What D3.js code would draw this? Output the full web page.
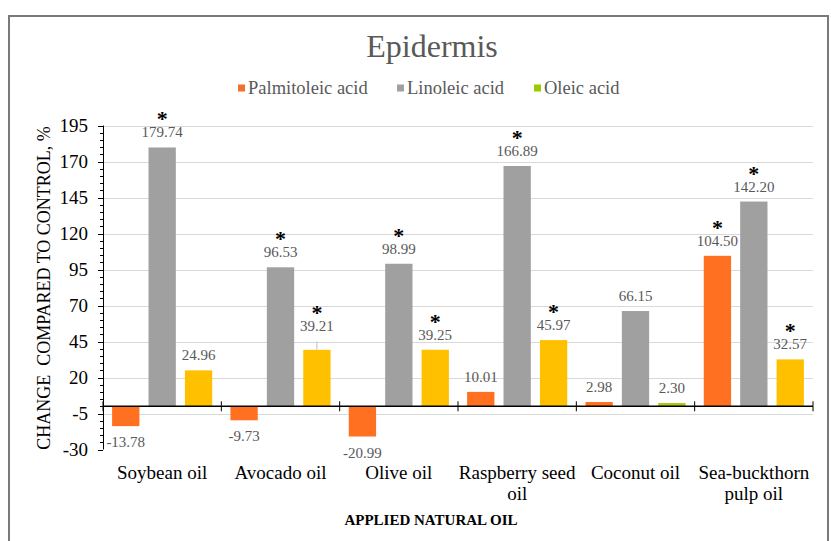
<!DOCTYPE html>
<html>
<head>
<meta charset="utf-8">
<script src="https://cdn.jsdelivr.net/npm/d3@7"></script>
<style>
  html, body { margin: 0; padding: 0; background: #fff; }
  svg { display: block; }
  svg text { font-family: "Liberation Serif", "Times New Roman", "DejaVu Serif", serif; }
</style>
</head>
<body>
<script>
// ---- data ----
const categories = [["Soybean oil"], ["Avocado oil"], ["Olive oil"], ["Raspberry seed", "oil"], ["Coconut oil"], ["Sea-buckthorn", "pulp oil"]];
const seriesNames = ["Palmitoleic acid", "Linoleic acid", "Oleic acid"];
const palmitoleic = [-13.78, -9.73, -20.99, 10.01, 2.98, 104.50];
const linoleic = [179.74, 96.53, 98.99, 166.89, 66.15, 142.20];
const oleic = [24.96, 39.21, 39.25, 45.97, 2.30, 32.57];
const palmitoleicSig = [false, false, false, false, false, true];
const linoleicSig = [true, true, true, true, false, true];
const oleicSig = [false, true, true, true, false, true];
const oleicErr = [0, 5.8, 0, 0, 0, 0];
const yTicks = [195, 170, 145, 120, 95, 70, 45, 20, -5, -30];

// ---- styles ----
const seriesColors = ["#FF7020", "#A0A0A0", "#FFC000"];
const legendColors = ["#F07030", "#A0A0A0", "#99CC00"];
const pointColorOverride = { "2-4": "#A8C81E" };

const W = 831, H = 541;
const svg = d3.select("body").append("svg").attr("width", W).attr("height", H);
svg.append("rect").attr("width", W).attr("height", H).attr("fill", "#fff");

// frame
svg.append("rect").attr("x", 9).attr("y", 16).attr("width", 819).attr("height", 560)
  .attr("fill", "none").attr("stroke", "#7a7a7a").attr("stroke-width", 2);

const plotL = 103, plotR = 813;
const y = d3.scaleLinear().domain([-30, 195]).range([449.5, 125.5]);
const x0 = d3.scaleBand().domain(d3.range(categories.length)).range([plotL, plotR]).padding(0);
const x1 = d3.scaleBand().domain(d3.range(3)).range([0, x0.bandwidth()]).paddingInner(0.25).paddingOuter(0.25);

// gridlines
svg.append("g").selectAll("line").data(yTicks.filter(t => t !== -30)).join("line")
  .attr("x1", plotL).attr("x2", plotR)
  .attr("y1", d => Math.round(y(d)) + 0.5).attr("y2", d => Math.round(y(d)) + 0.5)
  .attr("stroke", "#d9d9d9").attr("stroke-width", 1);

// bars
const series = [palmitoleic, linoleic, oleic];
const sigs = [palmitoleicSig, linoleicSig, oleicSig];
const barData = [];
categories.forEach((c, i) => {
  series.forEach((s, j) => {
    barData.push({ cat: i, ser: j, v: s[i], sig: sigs[j][i], err: j === 2 ? oleicErr[i] : 0 });
  });
});

svg.append("g").selectAll("rect").data(barData).join("rect")
  .attr("x", d => x0(d.cat) + x1(d.ser))
  .attr("width", x1.bandwidth())
  .attr("y", d => y(Math.max(0, d.v)))
  .attr("height", d => Math.abs(y(d.v) - y(0)))
  .attr("fill", d => pointColorOverride[d.ser + "-" + d.cat] || seriesColors[d.ser]);

// error bars
svg.append("g").selectAll("line").data(barData.filter(d => d.err > 0)).join("line")
  .attr("x1", d => x0(d.cat) + x1(d.ser) + x1.bandwidth() / 2)
  .attr("x2", d => x0(d.cat) + x1(d.ser) + x1.bandwidth() / 2)
  .attr("y1", d => y(d.v)).attr("y2", d => y(d.v + d.err))
  .attr("stroke", "#bfbfbf").attr("stroke-width", 1);

// data labels
const labelY = d => d.v >= 0 ? y(d.v + d.err) - 10 : y(d.v) + 21;
svg.append("g").selectAll("text").data(barData).join("text")
  .attr("x", d => x0(d.cat) + x1(d.ser) + x1.bandwidth() / 2)
  .attr("y", labelY)
  .attr("text-anchor", "middle")
  .attr("font-size", 15).attr("fill", "#595959")
  .text(d => d.v.toFixed(2));

// significance asterisks
svg.append("g").selectAll("text").data(barData.filter(d => d.sig)).join("text")
  .attr("x", d => x0(d.cat) + x1(d.ser) + x1.bandwidth() / 2)
  .attr("y", d => labelY(d) - 11)
  .attr("text-anchor", "middle")
  .attr("font-size", 22).attr("font-weight", "bold").attr("fill", "#000")
  .text("*");

// y axis
const yAxisG = svg.append("g");
yAxisG.append("line").attr("x1", plotL + 0.5).attr("x2", plotL + 0.5)
  .attr("y1", y(195)).attr("y2", y(-30)).attr("stroke", "#000").attr("stroke-width", 1);
const minorTicks = d3.range(-30, 195.01, 5);
yAxisG.selectAll("line.minor").data(minorTicks).join("line").attr("class", "minor")
  .attr("x1", plotL - 3).attr("x2", plotL)
  .attr("y1", d => Math.round(y(d)) + 0.5).attr("y2", d => Math.round(y(d)) + 0.5)
  .attr("stroke", "#000").attr("stroke-width", 1);
yAxisG.selectAll("line.major").data(yTicks).join("line").attr("class", "major")
  .attr("x1", plotL - 5).attr("x2", plotL)
  .attr("y1", d => Math.round(y(d)) + 0.5).attr("y2", d => Math.round(y(d)) + 0.5)
  .attr("stroke", "#000").attr("stroke-width", 1);
yAxisG.selectAll("text").data(yTicks).join("text")
  .attr("x", 88).attr("y", d => y(d)).attr("dy", "0.35em")
  .attr("text-anchor", "end")
  .attr("font-size", 19).attr("fill", "#000")
  .text(d => d);

// x axis (at zero)
const y0 = y(0);
svg.append("line").attr("x1", plotL).attr("x2", plotR).attr("y1", y0).attr("y2", y0)
  .attr("stroke", "#000").attr("stroke-width", 1.5);
svg.append("g").selectAll("line").data(d3.range(categories.length + 1)).join("line")
  .attr("x1", i => plotL + i * x0.step()).attr("x2", i => plotL + i * x0.step())
  .attr("y1", y0 - 5).attr("y2", y0 + 5)
  .attr("stroke", "#000").attr("stroke-width", 1);

// category labels
const catG = svg.append("g").selectAll("text").data(categories).join("text")
  .attr("x", (d, i) => x0(i) + x0.bandwidth() / 2)
  .attr("y", 479)
  .attr("text-anchor", "middle")
  .attr("font-size", 19).attr("fill", "#000");
catG.selectAll("tspan").data(d => d).join("tspan")
  .attr("x", function () { return d3.select(this.parentNode).attr("x"); })
  .attr("dy", (d, k) => k === 0 ? 0 : 21)
  .text(d => d);

// axis titles
svg.append("text").attr("x", 431).attr("y", 525).attr("text-anchor", "middle")
  .attr("font-size", 15).attr("font-weight", "bold").attr("fill", "#000")
  .text("APPLIED NATURAL OIL");
svg.append("text").attr("transform", "translate(50,288) rotate(-90)").attr("text-anchor", "middle")
  .attr("font-size", 18).attr("fill", "#000")
  .attr("xml:space", "preserve")
  .text("CHANGE  COMPARED TO CONTROL, %");

// title
svg.append("text").attr("x", 432).attr("y", 57).attr("text-anchor", "middle")
  .attr("font-size", 32).attr("fill", "#595959")
  .text("Epidermis");

// legend
const legendX = [238, 397, 534];
const lg = svg.append("g").selectAll("g").data(seriesNames).join("g")
  .attr("transform", (d, i) => `translate(${legendX[i]},88)`);
lg.append("rect").attr("x", 0).attr("y", -3.5).attr("width", 7).attr("height", 7)
  .attr("fill", (d, i) => legendColors[i]);
lg.append("text").attr("x", 10).attr("y", 0).attr("dy", "0.35em")
  .attr("font-size", 18.5).attr("fill", "#595959")
  .text(d => d);
</script>
</body>
</html>
